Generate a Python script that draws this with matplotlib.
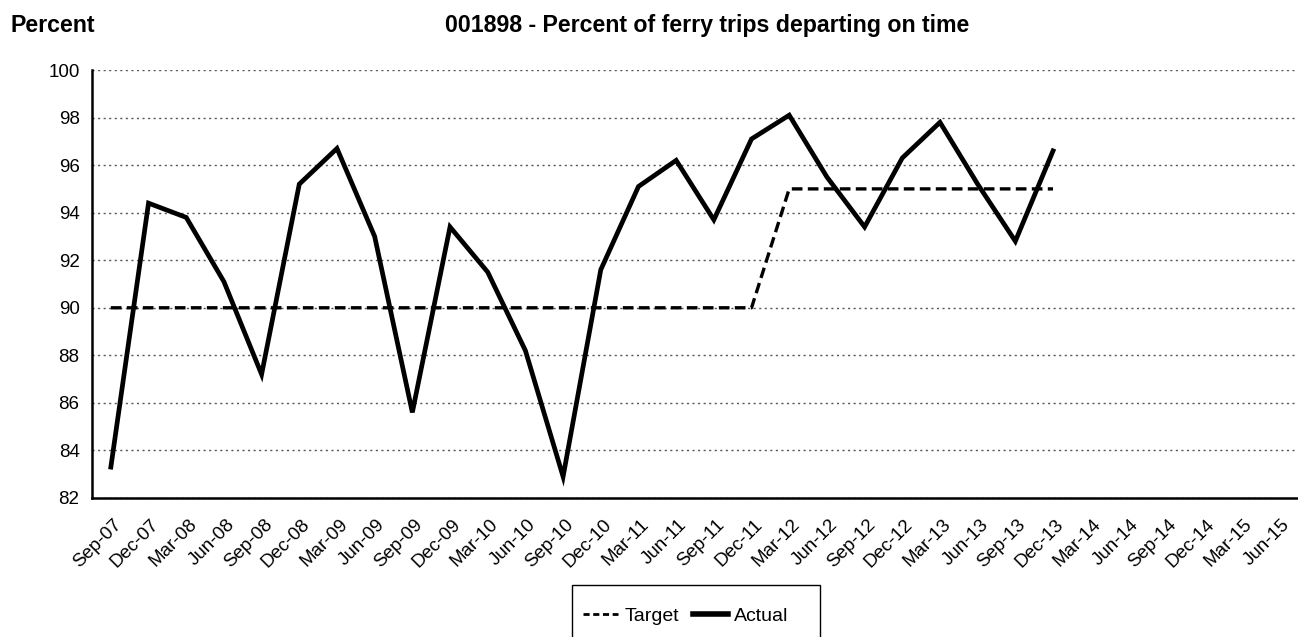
import matplotlib
matplotlib.use("Agg")
import matplotlib.pyplot as plt
import matplotlib.transforms as mtransforms
from matplotlib.patches import Rectangle
import numpy as np

plt.rcParams["font.family"] = ["Liberation Sans", "DejaVu Sans"]

quarters = ["Sep-07", "Dec-07", "Mar-08", "Jun-08", "Sep-08", "Dec-08", "Mar-09", "Jun-09",
            "Sep-09", "Dec-09", "Mar-10", "Jun-10", "Sep-10", "Dec-10", "Mar-11", "Jun-11",
            "Sep-11", "Dec-11", "Mar-12", "Jun-12", "Sep-12", "Dec-12", "Mar-13", "Jun-13",
            "Sep-13", "Dec-13", "Mar-14", "Jun-14", "Sep-14", "Dec-14", "Mar-15", "Jun-15"]
actual = [83.3, 94.4, 93.8, 91.1, 87.2, 95.2, 96.7, 93.0, 85.6, 93.4, 91.5, 88.2, 82.9,
          91.6, 95.1, 96.2, 93.7, 97.1, 98.1, 95.5, 93.4, 96.3, 97.8, 95.2, 92.8, 96.6]
target = [90] * 18 + [95] * 8

W, H = 1298, 637
fig = plt.figure(figsize=(W / 100, H / 100), dpi=100)
ax = fig.add_axes([92 / W, 1 - 498 / H, (1298 - 92) / W, (498 - 70) / H])

x = np.arange(len(quarters))
ax.plot(x[:len(target)], target, color="black", lw=2.4, ls=(0, (3.2, 1.6)), label="Target")
ax.plot(x[:len(actual)], actual, color="black", lw=3.4, solid_joinstyle="miter", label="Actual")

ax.set_xlim(-0.5, len(quarters) - 0.5)
ax.set_ylim(82, 100)
ax.set_yticks(np.arange(82, 101, 2))
ax.set_xticks(x)
ax.set_xticklabels(quarters, rotation=45, ha="right", rotation_mode="anchor")
ax.tick_params(axis="both", length=0, labelsize=13.5, colors="black")
ax.tick_params(axis="x", pad=13)
ax.tick_params(axis="y", pad=9)
shift = mtransforms.ScaledTranslation(2 / 100, 0, fig.dpi_scale_trans)
for lbl in ax.get_xticklabels():
    lbl.set_transform(lbl.get_transform() + shift)
ax.grid(axis="y", color="#555555", ls=(0, (1.5, 2.5)), lw=1)
ax.set_axisbelow(True)
ax.spines["top"].set_visible(False)
ax.spines["right"].set_visible(False)
ax.spines["left"].set_linewidth(1.8)
ax.spines["bottom"].set_linewidth(1.8)

fig.text(10 / W, 1 - 32 / H, "Percent", fontsize=16.7, fontweight="bold", va="baseline", ha="left")
fig.text(707 / W, 1 - 32 / H, "001898 - Percent of ferry trips departing on time",
         fontsize=16.7, fontweight="bold", va="baseline", ha="center")

# legend box (Excel style, runs off the bottom edge)
fig.patches.append(Rectangle((572 / W, -0.05), (820 - 572) / W, 0.05 + (637 - 585) / H,
                             transform=fig.transFigure, fill=False, edgecolor="black", lw=1.0))
leg = fig.legend(loc="upper center", bbox_to_anchor=(686 / W, 1 - 590 / H), ncol=2,
                 frameon=False, fontsize=14, handlelength=1.8,
                 handletextpad=0.3, columnspacing=0.75, borderpad=0.4)
leg.get_lines()[0].set_linewidth(2.0)
leg.get_lines()[0].set_linestyle((0, (2.2, 1.3)))
leg.get_lines()[1].set_linewidth(4.0)

fig.savefig("out.png", dpi=100)
